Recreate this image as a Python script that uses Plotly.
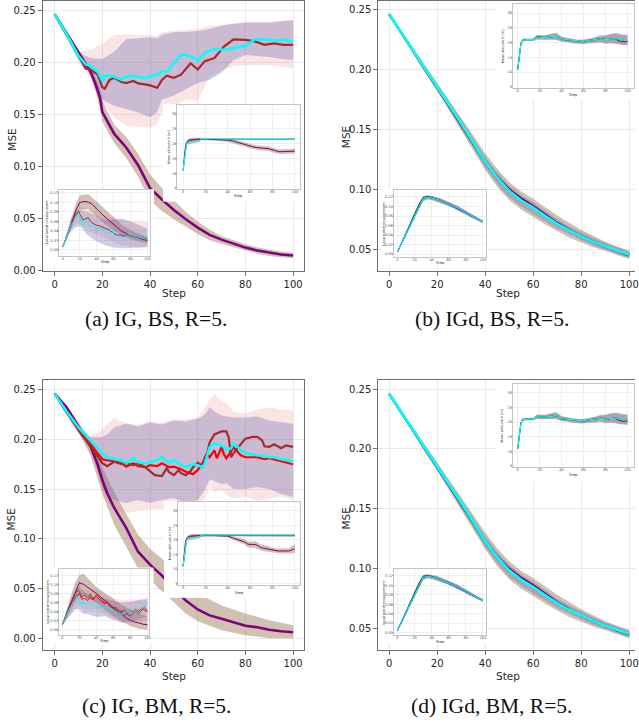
import plotly.graph_objects as go

W, H = 639, 728

# ---------------- tick labels / text ----------------
STEP_TICKS = [0, 20, 40, 60, 80, 100]
MSE_TICKS_IG = [0.00, 0.05, 0.10, 0.15, 0.20, 0.25]
MSE_TICKS_IGD = [0.05, 0.10, 0.15, 0.20, 0.25]
ALT_TICKS = [5, 10, 15, 20, 25, 30]
MIS_TICKS = [0.00, 0.02, 0.04, 0.06, 0.08, 0.10, 0.12]
CAPTIONS = ["(a) IG, BS, R=5.", "(b) IGd, BS, R=5.", "(c) IG, BM, R=5.", "(d) IGd, BM, R=5."]

COL_PURPLE = "#800080"
COL_BROWN = "#a52a2a"
COL_RED = "#ff0000"
COL_CYAN = "#00ffff"
COL_GREEN = "#008000"
COL_BLUE = "#3535ff"
F_TAN = "rgba(140,100,60,0.40)"
F_PINK = "rgba(235,120,120,0.20)"
F_BLUE = "rgba(100,100,175,0.32)"

# ---------------- (a) IG, BS : main MSE ----------------
A_X = [0, 5, 10, 13, 15, 18, 20, 21, 23, 25, 28, 30, 33, 35, 38, 40, 43, 45, 47, 50, 53, 55, 57, 60, 63, 67, 71, 75, 80, 84, 88, 92, 96, 100]
A_BROWN = [0.246, 0.226, 0.205, 0.194, 0.193, 0.188, 0.176, 0.1745, 0.183, 0.185, 0.181, 0.180, 0.182, 0.1796, 0.1786, 0.1777, 0.1754, 0.183, 0.187, 0.185,
           0.188, 0.194, 0.199, 0.193, 0.201, 0.204, 0.215, 0.222, 0.2214, 0.220, 0.2167, 0.218, 0.2167, 0.2167]
A_CYAN = [0.246, 0.227, 0.206, 0.198, 0.196, 0.191, 0.182, 0.1865, 0.187, 0.186, 0.183, 0.186, 0.187, 0.186, 0.1846, 0.1865, 0.188, 0.191, 0.191, 0.199,
          0.207, 0.207, 0.2056, 0.202, 0.209, 0.2126, 0.212, 0.2135, 0.2157, 0.222, 0.222, 0.2208, 0.2214, 0.220]
A_PURPLE_X = [0, 5, 10, 15, 17, 19, 20, 22, 25, 30, 35, 40, 45, 50, 55, 60, 65, 70, 75, 80, 85, 90, 95, 100]
A_PURPLE = [0.246, 0.228, 0.210, 0.191, 0.180, 0.166, 0.152, 0.144, 0.131, 0.118, 0.101, 0.079, 0.068, 0.058, 0.049, 0.041, 0.034, 0.0295, 0.0255, 0.0218, 0.019, 0.0168, 0.0152, 0.0143]
A_TAN_UP = [0.247, 0.230, 0.212, 0.195, 0.186, 0.176, 0.163, 0.153, 0.140, 0.128, 0.112, 0.092, 0.079, 0.067, 0.056, 0.047, 0.039, 0.033, 0.029, 0.025, 0.022, 0.020, 0.018, 0.0168]
A_TAN_LO = [0.245, 0.226, 0.207, 0.187, 0.173, 0.156, 0.143, 0.135, 0.122, 0.108, 0.090, 0.067, 0.057, 0.049, 0.042, 0.035, 0.029, 0.0255, 0.0222, 0.0188, 0.016, 0.0138, 0.0125, 0.0118]
A_BAND_X = [0, 5, 10, 15, 20, 25, 30, 35, 40, 43, 45, 50, 55, 60, 65, 70, 75, 80, 85, 90, 95, 100]
A_BLUE_UP = [0.247, 0.229, 0.209, 0.204, 0.203, 0.210, 0.222, 0.223, 0.224, 0.223, 0.226, 0.229, 0.229, 0.230, 0.232, 0.235, 0.237, 0.238, 0.238, 0.238, 0.239, 0.2405]
A_BLUE_LO = [0.245, 0.225, 0.203, 0.190, 0.164, 0.158, 0.155, 0.1517, 0.147, 0.152, 0.164, 0.168, 0.174, 0.180, 0.183, 0.190, 0.202, 0.207, 0.206, 0.205, 0.203, 0.202]
A_PINK_UP = [0.247, 0.229, 0.210, 0.212, 0.218, 0.226, 0.227, 0.226, 0.226, 0.225, 0.229, 0.230, 0.231, 0.232, 0.235, 0.236, 0.237, 0.239, 0.239, 0.239, 0.240, 0.240]
A_PINK_LO = [0.245, 0.223, 0.200, 0.185, 0.160, 0.147, 0.139, 0.138, 0.137, 0.140, 0.1516, 0.158, 0.164, 0.163, 0.186, 0.192, 0.196, 0.197, 0.197, 0.197, 0.196, 0.1945]

# (a) inset: mean altitude
AU_X = [0, 1, 2, 3, 4, 5, 8, 10, 15, 16, 20, 25, 30, 35, 40, 45, 50, 55, 58, 62, 66, 70, 73, 77, 82, 86, 91, 95, 100]
AU_PURPLE = [11.0, 15.0, 18.8, 20.2, 20.9, 21.1, 21.3, 21.4, 21.5, 21.6, 21.6, 21.5, 21.4, 21.4, 21.2, 20.9, 20.3, 19.8, 19.4, 19.0, 18.7, 18.5, 18.5, 18.3, 17.7, 17.3, 17.35, 17.4, 17.5]
AU_TAN_UP = [11.2, 15.5, 19.4, 20.8, 21.5, 21.7, 21.9, 22.0, 22.0, 22.0, 22.0, 22.0, 21.9, 22.0, 21.8, 21.6, 21.0, 20.5, 20.1, 19.7, 19.4, 19.3, 19.3, 19.1, 18.5, 18.1, 18.15, 18.2, 18.3]
AU_TAN_LO = [10.8, 14.5, 18.2, 19.6, 20.3, 20.5, 20.7, 20.8, 21.0, 21.2, 21.2, 21.0, 20.9, 20.8, 20.6, 20.2, 19.6, 19.1, 18.7, 18.3, 18.0, 17.7, 17.7, 17.5, 16.9, 16.5, 16.55, 16.6, 16.7]
AU2_X = [0, 1, 2, 3, 4, 5, 8, 10, 15, 16, 20, 40, 60, 80, 100]
AU_CYAN = [11.0, 14.0, 17.5, 19.5, 20.3, 20.6, 20.8, 20.9, 21.1, 21.7, 21.7, 21.7, 21.7, 21.7, 21.7]
AU_BROWN = [11.0, 14.8, 18.6, 20.0, 20.8, 21.0, 21.2, 21.3, 21.5, 21.6, 21.7, 21.6, 21.6, 21.6, 21.6]
AU_BAND_UP = [11.2, 15.5, 19.4, 20.8, 21.5, 21.7, 21.8, 21.9, 21.9, 21.9, 21.9, 21.85, 21.85, 21.85, 21.85]
AU_BAND_LO = [10.8, 13.5, 17.0, 19.0, 19.8, 20.0, 20.2, 20.3, 20.6, 21.4, 21.5, 21.4, 21.4, 21.4, 21.4]

# (a) inset: local belief misalignment
AL_PURPLE_X = [0, 5, 10, 15, 20, 25, 30, 35, 40, 50, 60, 70, 80, 90, 100]
AL_PURPLE = [0.007, 0.030, 0.053, 0.082, 0.100, 0.102, 0.101, 0.096, 0.086, 0.069, 0.053, 0.039, 0.030, 0.0245, 0.020]
AL_X = [0, 5, 10, 12, 15, 17, 19, 20, 22, 24, 26, 28, 30, 32, 35, 38, 40, 43, 46, 49, 52, 55, 58, 61, 64, 67, 70, 73, 76, 79, 82, 85, 88, 91, 94, 97, 100]
AL_BROWN = [0.007, 0.032, 0.056, 0.066, 0.074, 0.078, 0.081, 0.075, 0.068, 0.063, 0.065, 0.066, 0.068, 0.062, 0.056, 0.054, 0.052, 0.051, 0.049, 0.047,
            0.045, 0.042, 0.038, 0.035, 0.031, 0.032, 0.030, 0.029, 0.030, 0.031, 0.030, 0.029, 0.028, 0.027, 0.026, 0.025, 0.023]
AL_CYAN = [0.007, 0.031, 0.054, 0.059, 0.064, 0.068, 0.077, 0.068, 0.058, 0.052, 0.057, 0.061, 0.053, 0.049, 0.052, 0.047, 0.044, 0.046, 0.047, 0.040,
           0.035, 0.039, 0.042, 0.031, 0.030, 0.028, 0.027, 0.026, 0.030, 0.033, 0.030, 0.028, 0.027, 0.026, 0.025, 0.024, 0.0224]
AL_BAND_X = [0, 5, 10, 15, 20, 30, 40, 50, 60, 70, 80, 90, 100]
AL_TAN_UP = [0.008, 0.036, 0.063, 0.095, 0.115, 0.117, 0.102, 0.086, 0.069, 0.053, 0.042, 0.034, 0.028]
AL_TAN_LO = [0.006, 0.025, 0.045, 0.068, 0.084, 0.086, 0.071, 0.054, 0.041, 0.031, 0.023, 0.018, 0.014]
AL_BLUE_UP = [0.008, 0.038, 0.066, 0.082, 0.084, 0.080, 0.072, 0.063, 0.064, 0.066, 0.060, 0.052, 0.045]
AL_BLUE_LO = [0.006, 0.024, 0.040, 0.048, 0.050, 0.030, 0.018, 0.010, 0.005, 0.0035, 0.004, 0.005, 0.007]
AL_PINK_UP = [0.008, 0.040, 0.070, 0.086, 0.091, 0.085, 0.077, 0.072, 0.068, 0.063, 0.061, 0.060, 0.059]
AL_PINK_LO = [0.006, 0.026, 0.045, 0.055, 0.055, 0.040, 0.032, 0.0245, 0.016, 0.010, 0.007, 0.005, 0.0035]

# ---------------- (b)/(d) IGd : main MSE ----------------
B_X = [0, 5, 10, 15, 20, 25, 30, 35, 40, 45, 50, 55, 60, 65, 70, 75, 80, 85, 90, 95, 100]
B_CYAN = [0.246, 0.231, 0.216, 0.2005, 0.186, 0.171, 0.155, 0.139, 0.1228, 0.1095, 0.0985, 0.0905, 0.0845, 0.0775, 0.071, 0.0655, 0.0605, 0.0562, 0.0522, 0.0485, 0.0452]
B_PURPLE = [0.246, 0.2308, 0.2155, 0.1998, 0.1852, 0.170, 0.1542, 0.1385, 0.1228, 0.110, 0.0998, 0.0922, 0.086, 0.0788, 0.0718, 0.066, 0.0607, 0.0562, 0.052, 0.0482, 0.0448]
B_GREEN = [0.246, 0.2305, 0.2152, 0.1993, 0.1848, 0.1698, 0.1538, 0.1378, 0.1222, 0.1092, 0.0985, 0.0905, 0.0845, 0.0775, 0.071, 0.0655, 0.0605, 0.0562, 0.0522, 0.0485, 0.0452]
B_TAN_UP = [0.247, 0.2325, 0.218, 0.203, 0.1895, 0.175, 0.160, 0.145, 0.130, 0.117, 0.106, 0.098, 0.092, 0.085, 0.078, 0.072, 0.066, 0.061, 0.056, 0.0522, 0.0485]
B_TAN_LO = [0.245, 0.2295, 0.2135, 0.197, 0.182, 0.166, 0.1495, 0.1325, 0.116, 0.102, 0.091, 0.083, 0.077, 0.0705, 0.065, 0.0595, 0.0555, 0.0515, 0.0485, 0.0448, 0.0418]
B_BLUE_UP = [0.2468, 0.232, 0.2175, 0.2025, 0.1885, 0.1735, 0.158, 0.1425, 0.127, 0.114, 0.103, 0.095, 0.089, 0.082, 0.075, 0.069, 0.064, 0.0595, 0.0552, 0.0515, 0.048]
B_BLUE_LO = [0.2452, 0.2298, 0.2143, 0.1983, 0.1833, 0.1678, 0.151, 0.1345, 0.118, 0.104, 0.093, 0.0855, 0.0795, 0.073, 0.067, 0.062, 0.0575, 0.053, 0.0495, 0.0458, 0.0425]

# (b)/(d) inset: mean altitude
BU_X = [0, 1, 2, 3, 4, 5, 8, 12, 14, 16, 18, 20, 25, 30, 33, 35, 37, 40, 45, 50, 55, 58, 60, 63, 66, 70, 73, 76, 80, 83, 86, 88, 90, 93, 96, 100]
BU_CYAN = [10.8, 14.0, 18.0, 19.8, 20.6, 20.8, 21.0, 21.0, 21.0, 21.8, 21.9, 21.8, 21.7, 21.9, 22.1, 22.2, 22.0, 21.2, 21.0, 20.8,
           20.5, 20.3, 20.4, 20.7, 20.8, 21.0, 21.0, 21.3, 21.0, 21.1, 21.4, 21.5, 21.4, 21.0, 20.9, 20.6]
BU_PURPLE = [10.8, 14.0, 18.0, 19.8, 20.6, 20.8, 21.0, 21.0, 21.0, 21.8, 21.9, 21.8, 21.7, 21.9, 22.0, 22.1, 21.9, 21.1, 20.9, 20.7,
             20.4, 20.2, 20.3, 20.6, 20.8, 21.0, 21.1, 21.4, 21.1, 21.0, 21.3, 21.4, 21.0, 20.5, 20.3, 20.3]
BU_GREEN = [10.8, 14.0, 18.0, 19.8, 20.6, 20.8, 21.0, 21.0, 21.0, 21.8, 22.0, 21.9, 21.8, 22.0, 22.1, 22.2, 22.0, 21.2, 21.0, 20.8,
            20.5, 20.3, 20.4, 20.7, 20.8, 21.0, 21.0, 21.3, 21.0, 21.1, 21.4, 21.5, 21.4, 21.0, 20.9, 20.6]
BU_BAND_X = [0, 2, 4, 6, 10, 15, 17, 20, 25, 30, 35, 40, 45, 50, 55, 60, 65, 70, 75, 80, 85, 90, 95, 100]
BU_TAN_UP = [11.0, 18.5, 21.2, 21.4, 21.4, 21.5, 22.5, 22.6, 22.5, 23.0, 23.2, 22.0, 21.6, 21.3, 21.0, 21.0, 21.4, 21.8, 22.2, 22.5, 22.8, 23.0, 22.6, 22.5]
BU_TAN_LO = [10.6, 17.5, 20.0, 20.5, 20.5, 20.6, 21.0, 21.0, 20.9, 21.0, 21.0, 20.3, 20.2, 19.8, 19.6, 19.5, 19.8, 19.8, 20.0, 19.6, 19.8, 19.6, 19.2, 19.0]
BU_BLUE_UP = [11.0, 18.3, 21.1, 21.3, 21.3, 21.4, 22.3, 22.5, 22.3, 22.8, 23.4, 22.0, 21.5, 21.2, 20.9, 21.0, 21.3, 21.7, 22.6, 22.4, 23.1, 23.3, 22.8, 22.6]
BU_BLUE_LO = [10.6, 17.6, 20.1, 20.6, 20.6, 20.7, 21.1, 21.1, 21.0, 21.0, 21.0, 20.4, 20.2, 19.9, 19.6, 19.6, 19.9, 20.0, 20.3, 19.9, 19.9, 19.8, 19.4, 19.2]

# (b)/(d) inset: local belief misalignment
BL_X = [0, 5, 10, 15, 20, 25, 30, 35, 40, 45, 50, 55, 60, 65, 70, 75, 80, 85, 90, 95, 100]
BL_CYAN = [0.005, 0.024, 0.043, 0.062, 0.081, 0.100, 0.1165, 0.1195, 0.118, 0.1155, 0.1125, 0.109, 0.1055, 0.1015, 0.097, 0.092, 0.087, 0.082, 0.077, 0.072, 0.068]
BL_GREEN = [0.005, 0.025, 0.045, 0.065, 0.085, 0.104, 0.1195, 0.121, 0.119, 0.116, 0.1125, 0.109, 0.1055, 0.1015, 0.097, 0.092, 0.087, 0.082, 0.077, 0.072, 0.068]
BL_BLUE = [0.005, 0.024, 0.043, 0.062, 0.081, 0.100, 0.1165, 0.1195, 0.118, 0.1155, 0.1125, 0.1075, 0.1035, 0.0995, 0.095, 0.0905, 0.086, 0.082, 0.077, 0.072, 0.068]
BL_PURPLE = [0.005, 0.024, 0.044, 0.063, 0.082, 0.101, 0.117, 0.120, 0.1185, 0.116, 0.113, 0.1095, 0.106, 0.102, 0.0975, 0.0925, 0.0875, 0.0825, 0.0775, 0.0725, 0.0685]
BL_TAN_UP = [0.006, 0.027, 0.047, 0.067, 0.087, 0.106, 0.121, 0.1235, 0.1225, 0.120, 0.117, 0.1135, 0.110, 0.106, 0.1015, 0.0965, 0.091, 0.0855, 0.080, 0.0745, 0.070]
BL_TAN_LO = [0.004, 0.021, 0.039, 0.057, 0.075, 0.094, 0.111, 0.115, 0.1135, 0.111, 0.108, 0.1045, 0.101, 0.097, 0.0925, 0.088, 0.083, 0.078, 0.074, 0.069, 0.065]

# ---------------- (c) IG, BM : main MSE ----------------
C_CYAN_X = [0, 5, 10, 15, 18, 20, 22, 25, 28, 30, 33, 35, 38, 40, 43, 45, 48, 50, 53, 55, 58, 60, 62, 63, 65, 67, 68, 70, 72, 74, 75, 77, 78, 80, 82, 85, 88, 90, 92, 95, 98, 100]
C_CYAN = [0.246, 0.228, 0.212, 0.199, 0.1907, 0.1857, 0.182, 0.180, 0.179, 0.176, 0.181, 0.177, 0.176, 0.177, 0.179, 0.182, 0.176, 0.179, 0.174, 0.172,
          0.175, 0.174, 0.172, 0.176, 0.192, 0.196, 0.195, 0.194, 0.190, 0.191, 0.196, 0.192, 0.189, 0.186, 0.185, 0.184, 0.183, 0.182, 0.182, 0.180, 0.179, 0.177]
C_RED_X = [0, 5, 10, 15, 18, 20, 22, 25, 28, 30, 33, 35, 38, 40, 43, 45, 48, 50, 53, 55, 58, 60, 62, 64, 65, 67, 68, 70, 71, 72, 74, 75, 78, 80, 85, 88, 90, 95, 100]
C_RED = [0.246, 0.227, 0.210, 0.196, 0.186, 0.180, 0.179, 0.178, 0.176, 0.1725, 0.176, 0.173, 0.172, 0.174, 0.173, 0.176, 0.172, 0.1725, 0.170, 0.1675,
         0.165, 0.169, 0.176, 0.186, 0.182, 0.189, 0.181, 0.192, 0.185, 0.181, 0.188, 0.192, 0.184, 0.182, 0.182, 0.180, 0.181, 0.178, 0.175]
C_BROWN_X = [0, 5, 10, 15, 18, 20, 22, 25, 28, 30, 33, 35, 38, 40, 42, 45, 47, 48, 50, 52, 53, 55, 57, 58, 60, 62, 63, 64, 65, 67,
             70, 72, 73, 74, 75, 77, 78, 80, 83, 85, 87, 88, 90, 92, 95, 97, 100]
C_BROWN = [0.246, 0.227, 0.209, 0.193, 0.182, 0.176, 0.173, 0.1775, 0.175, 0.176, 0.174, 0.176, 0.172, 0.1675, 0.164, 0.163, 0.171, 0.167, 0.164, 0.169,
           0.166, 0.164, 0.168, 0.172, 0.1765, 0.173, 0.182, 0.186, 0.197, 0.205, 0.208, 0.208, 0.202, 0.182, 0.186, 0.192, 0.195, 0.2007, 0.2024, 0.2024,
           0.199, 0.193, 0.1924, 0.195, 0.191, 0.194, 0.1924]
C_PURPLE_X = [0, 5, 10, 15, 18, 20, 22, 25, 30, 35, 40, 45, 50, 55, 60, 65, 70, 75, 80, 85, 90, 95, 100]
C_PURPLE = [0.246, 0.232, 0.213, 0.193, 0.175, 0.159, 0.146, 0.131, 0.111, 0.087, 0.074, 0.063, 0.050, 0.038, 0.029, 0.023, 0.0195, 0.016, 0.0125, 0.011, 0.0085, 0.007, 0.006]
C_TAN_X = [0, 5, 10, 15, 20, 25, 30, 35, 40, 45, 50, 55, 60, 70, 80, 90, 100]
C_TAN_UP = [0.247, 0.234, 0.217, 0.199, 0.172, 0.147, 0.125, 0.104, 0.090, 0.080, 0.067, 0.055, 0.045, 0.033, 0.025, 0.018, 0.013]
C_TAN_LO = [0.245, 0.229, 0.207, 0.184, 0.145, 0.114, 0.092, 0.070, 0.059, 0.048, 0.036, 0.025, 0.017, 0.008, 0.003, 0.0, 0.0]
C_BAND_X = [0, 5, 10, 15, 20, 22, 25, 30, 35, 40, 45, 50, 55, 60, 63, 65, 67, 70, 72, 75, 80, 85, 90, 95, 100]
C_BLUE_UP = [0.247, 0.230, 0.214, 0.202, 0.2024, 0.205, 0.212, 0.216, 0.213, 0.217, 0.215, 0.219, 0.218, 0.2207, 0.225, 0.232, 0.228, 0.224, 0.223, 0.222, 0.222, 0.223, 0.219, 0.217, 0.2157]
C_BLUE_LO = [0.245, 0.226, 0.209, 0.193, 0.152, 0.1425, 0.139, 0.136, 0.139, 0.136, 0.139, 0.141, 0.136, 0.139, 0.149, 0.160, 0.158, 0.155, 0.156, 0.150, 0.150, 0.152, 0.150, 0.145, 0.142]
C_PINK_UP = [0.247, 0.230, 0.214, 0.203, 0.210, 0.215, 0.222, 0.216, 0.215, 0.218, 0.217, 0.220, 0.220, 0.222, 0.232, 0.240, 0.246, 0.238, 0.236, 0.228, 0.226, 0.230, 0.232, 0.230, 0.229]
C_PINK_LO = [0.245, 0.224, 0.206, 0.188, 0.150, 0.138, 0.129, 0.126, 0.128, 0.129, 0.130, 0.1325, 0.130, 0.136, 0.140, 0.152, 0.147, 0.149, 0.145, 0.140, 0.1425, 0.138, 0.140, 0.1425, 0.139]

# (c) inset: mean altitude
CU_PURPLE_X = [0, 1, 2, 3, 4, 5, 8, 10, 15, 20, 30, 40, 44, 50, 55, 58, 61, 65, 70, 75, 80, 85, 90, 95, 97, 100]
CU_PURPLE = [11.0, 15.0, 18.8, 20.2, 20.9, 21.1, 21.3, 21.4, 21.5, 21.6, 21.5, 21.3, 20.7, 20.0, 19.3, 18.5, 18.4, 18.4, 17.3, 17.0, 16.5, 16.2, 16.2, 16.2, 16.5, 17.0]
CU_TAN_UP = [11.2, 15.5, 19.4, 20.8, 21.5, 21.7, 21.9, 21.9, 21.9, 22.0, 21.9, 21.8, 21.3, 20.8, 20.2, 19.5, 19.4, 19.6, 18.3, 18.0, 17.3, 17.0, 17.0, 17.1, 17.7, 18.5]
CU_TAN_LO = [10.8, 14.5, 18.2, 19.6, 20.3, 20.5, 20.7, 20.9, 21.1, 21.2, 21.1, 20.8, 20.1, 19.2, 18.4, 17.5, 17.4, 17.2, 16.3, 16.0, 15.7, 15.4, 15.4, 15.3, 15.3, 15.5]
CU_X = [0, 1, 2, 3, 4, 5, 8, 10, 15, 16, 20, 40, 60, 80, 100]
CU_CYAN = [11.0, 14.0, 17.5, 19.5, 20.3, 20.6, 20.8, 20.9, 21.1, 21.6, 21.7, 21.7, 21.7, 21.7, 21.7]
CU_BROWN = [11.0, 14.8, 18.6, 20.0, 20.8, 21.0, 21.2, 21.3, 21.4, 21.4, 21.5, 21.5, 21.4, 21.3, 21.4]
CU_RED = [11.0, 14.6, 18.4, 19.9, 20.6, 20.9, 21.1, 21.2, 21.3, 21.5, 21.6, 21.6, 21.5, 21.5, 21.5]
CU_BAND_UP = [11.2, 15.5, 19.4, 20.8, 21.5, 21.7, 21.8, 21.9, 21.9, 21.9, 21.9, 21.9, 21.9, 21.9, 21.9]
CU_BAND_LO = [10.8, 13.5, 17.0, 19.0, 19.8, 20.0, 20.2, 20.3, 20.6, 21.2, 21.3, 21.3, 21.2, 21.1, 21.2]

# (c) inset: local belief misalignment
CL_PURPLE_X = [0, 5, 10, 15, 20, 25, 30, 35, 40, 45, 50, 55, 60, 65, 70, 75, 80, 85, 90, 95, 100]
CL_PURPLE = [0.011, 0.035, 0.060, 0.085, 0.105, 0.101, 0.095, 0.088, 0.081, 0.073, 0.065, 0.056, 0.048, 0.040, 0.033, 0.026, 0.021, 0.017, 0.015, 0.012, 0.011]
CL_CYAN_X = [0, 5, 10, 15, 18, 20, 22, 25, 28, 30, 33, 35, 38, 41, 45, 48, 51, 55, 58, 61, 65, 68, 70, 73, 76, 80, 83, 86, 90, 93, 96, 100]
CL_CYAN = [0.011, 0.032, 0.052, 0.068, 0.075, 0.066, 0.056, 0.060, 0.057, 0.060, 0.055, 0.058, 0.052, 0.049, 0.051, 0.048, 0.052, 0.047, 0.044, 0.041,
           0.038, 0.036, 0.034, 0.037, 0.040, 0.041, 0.038, 0.044, 0.049, 0.046, 0.052, 0.056]
CL_RED_X = [0, 5, 10, 15, 20, 23, 26, 30, 33, 36, 40, 43, 46, 50, 53, 56, 60, 63, 66, 70, 73, 76, 80, 83, 86, 90, 93, 96, 100]
CL_RED = [0.011, 0.033, 0.055, 0.072, 0.080, 0.068, 0.070, 0.065, 0.072, 0.066, 0.075, 0.068, 0.062, 0.058, 0.061, 0.052, 0.048, 0.050, 0.044, 0.040,
          0.044, 0.036, 0.043, 0.039, 0.046, 0.041, 0.048, 0.044, 0.040]
CL_BROWN_X = [0, 5, 10, 15, 18, 20, 23, 26, 30, 33, 36, 40, 43, 46, 50, 53, 56, 60, 63, 66, 70, 73, 76, 80, 83, 86, 90, 93, 96, 100]
CL_BROWN = [0.011, 0.036, 0.060, 0.080, 0.088, 0.085, 0.072, 0.078, 0.070, 0.080, 0.068, 0.078, 0.072, 0.066, 0.060, 0.062, 0.052, 0.047, 0.042, 0.036,
            0.040, 0.032, 0.036, 0.030, 0.036, 0.042, 0.035, 0.044, 0.050, 0.042]
CL_BAND_X = [0, 5, 10, 15, 20, 25, 30, 40, 50, 60, 70, 80, 90, 100]
CL_TAN_UP = [0.012, 0.045, 0.075, 0.105, 0.122, 0.125, 0.115, 0.095, 0.082, 0.068, 0.055, 0.045, 0.035, 0.030]
CL_TAN_LO = [0.010, 0.025, 0.045, 0.062, 0.078, 0.075, 0.070, 0.060, 0.045, 0.030, 0.018, 0.008, 0.002, 0.0]
CL_BLUE_UP = [0.012, 0.042, 0.066, 0.085, 0.095, 0.085, 0.080, 0.070, 0.070, 0.064, 0.060, 0.062, 0.066, 0.070]
CL_BLUE_LO = [0.010, 0.022, 0.035, 0.045, 0.045, 0.035, 0.035, 0.028, 0.030, 0.022, 0.015, 0.018, 0.022, 0.030]
CL_PINK_UP = [0.012, 0.045, 0.072, 0.092, 0.105, 0.092, 0.090, 0.090, 0.080, 0.070, 0.065, 0.068, 0.068, 0.066]
CL_PINK_LO = [0.010, 0.022, 0.035, 0.048, 0.052, 0.045, 0.042, 0.045, 0.035, 0.025, 0.018, 0.016, 0.018, 0.020]

# ====================================================================
fig = go.Figure()
layout = dict(width=W, height=H, autosize=False, margin=dict(l=0, r=0, t=0, b=0, pad=0),
              paper_bgcolor="white", plot_bgcolor="white", showlegend=False,
              hovermode=False, annotations=[])
counter = [0]


def new_axes(box, xr, yr, xs, ys):
    x0, x1, top, bottom = box
    counter[0] += 1
    n = counter[0]
    s = "" if n == 1 else str(n)
    layout["xaxis" + s] = dict(domain=[max(0.0, x0 / W), min(1.0, x1 / W)], range=xr, anchor="y" + s, **xs)
    layout["yaxis" + s] = dict(domain=[max(0.0, 1 - bottom / H), min(1.0, 1 - top / H)], range=yr, anchor="x" + s, **ys)
    return "x" + s, "y" + s


def main_style(ticks, fmt, mirror):
    return dict(showline=True, linecolor="#6e6e6e", linewidth=1, mirror=mirror, ticks="outside", ticklen=4,
                tickwidth=1, tickcolor="#6e6e6e", tickvals=ticks, tickformat=fmt, ticklabeloverflow="allow",
                tickfont=dict(family="DejaVu Sans", size=10, color="#262626"),
                showgrid=True, gridcolor="#e9e9e9", gridwidth=1, zeroline=False, fixedrange=True)


def inset_style(ticks, fmt):
    return dict(showline=True, linecolor="#c4c4c4", linewidth=0.8, mirror=True, ticks="outside", ticklen=1,
                tickwidth=0.6, tickcolor="#c4c4c4", tickvals=ticks, tickformat=fmt, ticklabelstandoff=-2,
                tickfont=dict(family="DejaVu Sans", size=3.6, color="#555555"),
                showgrid=True, gridcolor="#efefef", gridwidth=0.6, zeroline=False, fixedrange=True)


BOX_STYLE = dict(showgrid=False, showticklabels=False, showline=False, zeroline=False, ticks="", fixedrange=True)


def band(ax, xs, up, lo, color):
    fig.add_trace(go.Scatter(x=list(xs) + list(xs)[::-1], y=list(up) + list(lo)[::-1], fill="toself",
                             fillcolor=color, mode="lines", line=dict(width=0), xaxis=ax[0], yaxis=ax[1],
                             hoverinfo="skip", showlegend=False))


def line(ax, xs, ys, color, width):
    fig.add_trace(go.Scatter(x=xs, y=ys, mode="lines", line=dict(color=color, width=width),
                             xaxis=ax[0], yaxis=ax[1], hoverinfo="skip", showlegend=False))


def text(s, x, y, size, angle=0, family="DejaVu Sans", color="#262626"):
    layout["annotations"].append(dict(text=s, x=x / W, y=1 - y / H, xref="paper", yref="paper", showarrow=False,
                                      textangle=angle, xanchor="center", yanchor="middle",
                                      font=dict(family=family, size=size, color=color)))


# ---------------- main panels ----------------
ax = new_axes((43, 306, 1, 272.7), [-5, 104.6], [-0.0005, 0.2588],
              main_style(STEP_TICKS, "d", True), main_style(MSE_TICKS_IG, ".2f", True))
band(ax, A_PURPLE_X, A_TAN_UP, A_TAN_LO, F_TAN)
band(ax, A_BAND_X, A_PINK_UP, A_PINK_LO, F_PINK)
band(ax, A_BAND_X, A_BLUE_UP, A_BLUE_LO, F_BLUE)
line(ax, A_PURPLE_X, A_PURPLE, COL_PURPLE, 2.6)
line(ax, A_X, A_BROWN, COL_BROWN, 2.2)
line(ax, A_X, A_CYAN, COL_CYAN, 2.6)

ax = new_axes((380.7, 639, 1, 272.7), [-4.5, 102.4], [0.0318, 0.257],
              main_style(STEP_TICKS, "d", True), main_style(MSE_TICKS_IGD, ".2f", False))
band(ax, B_X, B_TAN_UP, B_TAN_LO, F_TAN)
band(ax, B_X, B_BLUE_UP, B_BLUE_LO, F_BLUE)
line(ax, B_X, B_PURPLE, COL_PURPLE, 2.4)
line(ax, B_X, B_GREEN, COL_GREEN, 2.0)
line(ax, B_X, B_CYAN, COL_CYAN, 2.6)

ax = new_axes((43, 306, 382.7, 654), [-5, 104.6], [-0.0113, 0.2596],
              main_style(STEP_TICKS, "d", True), main_style(MSE_TICKS_IG, ".2f", True))
band(ax, C_TAN_X, C_TAN_UP, C_TAN_LO, F_TAN)
band(ax, C_BAND_X, C_PINK_UP, C_PINK_LO, F_PINK)
band(ax, C_BAND_X, C_BLUE_UP, C_BLUE_LO, F_BLUE)
line(ax, C_PURPLE_X, C_PURPLE, COL_PURPLE, 2.6)
line(ax, C_RED_X, C_RED, COL_RED, 2.2)
line(ax, C_BROWN_X, C_BROWN, COL_BROWN, 2.2)
line(ax, C_CYAN_X, C_CYAN, COL_CYAN, 2.6)

ax = new_axes((380.7, 639, 382.7, 654), [-4.5, 102.4], [0.0323, 0.2575],
              main_style(STEP_TICKS, "d", True), main_style(MSE_TICKS_IGD, ".2f", False))
band(ax, B_X, B_TAN_UP, B_TAN_LO, F_TAN)
band(ax, B_X, B_BLUE_UP, B_BLUE_LO, F_BLUE)
line(ax, B_X, B_PURPLE, COL_PURPLE, 2.4)
line(ax, B_X, B_GREEN, COL_GREEN, 2.0)
line(ax, B_X, B_CYAN, COL_CYAN, 2.6)

# ---------------- white backing boxes for the insets ----------------
BOXES = [(164, 304, 105, 203), (47, 155, 190.5, 267),
         (500, 639, 2, 100), (383, 491, 190, 267),
         (165, 304, 504.5, 602), (47, 154.5, 571.5, 647.5),
         (500, 639, 384, 484), (383, 491, 572, 648)]
for b in BOXES:
    bx = new_axes(b, [0, 1], [0, 1], BOX_STYLE, BOX_STYLE)
    fig.add_trace(go.Scatter(x=[None], y=[None], mode="markers", xaxis=bx[0], yaxis=bx[1],
                             hoverinfo="skip", showlegend=False))

# ---------------- insets ----------------
ALT_Y = "Mean altitude h [m]"
MIS_Y = "Local belief misalignment"

# (a) altitude
ax = new_axes((178.3, 302.3, 106, 190), [-5.3, 105], [4.8, 33.0], inset_style(STEP_TICKS, "d"), inset_style(ALT_TICKS, "d"))
band(ax, AU_X, AU_TAN_UP, AU_TAN_LO, F_TAN)
band(ax, AU2_X, AU_BAND_UP, AU_BAND_LO, F_PINK)
band(ax, AU2_X, AU_BAND_UP, AU_BAND_LO, F_BLUE)
line(ax, AU_X, AU_PURPLE, COL_PURPLE, 1.0)
line(ax, AU2_X, AU_BROWN, COL_BROWN, 1.0)
line(ax, AU2_X, AU_CYAN, COL_CYAN, 1.2)
text(ALT_Y, 169.8, 148, 3.4, -90)
text("Step", 240.5, 197.5, 3.6)

# (a) misalignment
ax = new_axes((59.3, 151, 191.7, 257.3), [-4.7, 103.2], [-0.0117, 0.1254], inset_style(STEP_TICKS, "d"), inset_style(MIS_TICKS, ".2f"))
band(ax, AL_BAND_X, AL_TAN_UP, AL_TAN_LO, F_TAN)
band(ax, AL_BAND_X, AL_PINK_UP, AL_PINK_LO, F_PINK)
band(ax, AL_BAND_X, AL_BLUE_UP, AL_BLUE_LO, F_BLUE)
line(ax, AL_PURPLE_X, AL_PURPLE, COL_PURPLE, 1.0)
line(ax, AL_X, AL_BROWN, COL_BROWN, 1.0)
line(ax, AL_X, AL_CYAN, COL_CYAN, 1.0)
text(MIS_Y, 47.8, 224, 3.4, -90)
text("Step", 105.7, 264.3, 3.6)

# (b) altitude
ax = new_axes((516, 637.5, 4.3, 88.3), [-4.5, 105.5], [4.7, 33.0], inset_style(STEP_TICKS, "d"), inset_style(ALT_TICKS, "d"))
band(ax, BU_BAND_X, BU_TAN_UP, BU_TAN_LO, F_TAN)
band(ax, BU_BAND_X, BU_BLUE_UP, BU_BLUE_LO, F_BLUE)
line(ax, BU_X, BU_PURPLE, COL_PURPLE, 1.0)
line(ax, BU_X, BU_GREEN, COL_GREEN, 1.0)
line(ax, BU_X, BU_CYAN, COL_CYAN, 1.1)
text(ALT_Y, 505.6, 46, 3.4, -90)
text("Step", 577, 96, 3.6)

# (b) misalignment
ax = new_axes((396, 489.3, 191.7, 258.3), [-4.65, 103.8], [-0.0048, 0.1337], inset_style(STEP_TICKS, "d"), inset_style(MIS_TICKS, ".2f"))
band(ax, BL_X, BL_TAN_UP, BL_TAN_LO, F_TAN)
band(ax, BL_X, BL_TAN_UP, BL_TAN_LO, F_BLUE)
line(ax, BL_X, BL_PURPLE, COL_PURPLE, 1.0)
line(ax, BL_X, BL_GREEN, COL_GREEN, 1.0)
line(ax, BL_X, BL_BLUE, COL_BLUE, 1.0)
line(ax, BL_X, BL_CYAN, COL_CYAN, 1.0)
text(MIS_Y, 386.6, 225, 3.4, -90)
text("Step", 443, 264.8, 3.6)

# (c) altitude
ax = new_axes((179.3, 302.3, 505.7, 589.3), [-4.4, 105], [4.45, 32.9], inset_style(STEP_TICKS, "d"), inset_style(ALT_TICKS, "d"))
band(ax, CU_PURPLE_X, CU_TAN_UP, CU_TAN_LO, F_TAN)
band(ax, CU_X, CU_BAND_UP, CU_BAND_LO, F_PINK)
band(ax, CU_X, CU_BAND_UP, CU_BAND_LO, F_BLUE)
line(ax, CU_PURPLE_X, CU_PURPLE, COL_PURPLE, 1.0)
line(ax, CU_X, CU_RED, COL_RED, 1.0)
line(ax, CU_X, CU_BROWN, COL_BROWN, 1.0)
line(ax, CU_X, CU_CYAN, COL_CYAN, 1.2)
text(ALT_Y, 170.6, 547.5, 3.4, -90)
text("Step", 241, 597, 3.6)

# (c) misalignment
ax = new_axes((59.3, 150, 572.7, 639.3), [-4, 102], [-0.0118, 0.136], inset_style(STEP_TICKS, "d"), inset_style(MIS_TICKS, ".2f"))
band(ax, CL_BAND_X, CL_TAN_UP, CL_TAN_LO, F_TAN)
band(ax, CL_BAND_X, CL_PINK_UP, CL_PINK_LO, F_PINK)
band(ax, CL_BAND_X, CL_BLUE_UP, CL_BLUE_LO, F_BLUE)
line(ax, CL_PURPLE_X, CL_PURPLE, COL_PURPLE, 1.0)
line(ax, CL_RED_X, CL_RED, COL_RED, 0.9)
line(ax, CL_BROWN_X, CL_BROWN, COL_BROWN, 0.9)
line(ax, CL_CYAN_X, CL_CYAN, COL_CYAN, 1.0)
text(MIS_Y, 48.0, 606, 3.4, -90)
text("Step", 105, 645, 3.6)

# (d) altitude
ax = new_axes((516, 637.5, 386.7, 470), [-4.5, 105.5], [4.7, 33.0], inset_style(STEP_TICKS, "d"), inset_style(ALT_TICKS, "d"))
band(ax, BU_BAND_X, BU_TAN_UP, BU_TAN_LO, F_TAN)
band(ax, BU_BAND_X, BU_BLUE_UP, BU_BLUE_LO, F_BLUE)
line(ax, BU_X, BU_PURPLE, COL_PURPLE, 1.0)
line(ax, BU_X, BU_GREEN, COL_GREEN, 1.0)
line(ax, BU_X, BU_CYAN, COL_CYAN, 1.1)
text(ALT_Y, 505.6, 428, 3.4, -90)
text("Step", 577, 478, 3.6)

# (d) misalignment
ax = new_axes((396, 489.3, 573.3, 639.3), [-4.65, 103.8], [-0.0048, 0.1337], inset_style(STEP_TICKS, "d"), inset_style(MIS_TICKS, ".2f"))
band(ax, BL_X, BL_TAN_UP, BL_TAN_LO, F_TAN)
band(ax, BL_X, BL_TAN_UP, BL_TAN_LO, F_BLUE)
line(ax, BL_X, BL_PURPLE, COL_PURPLE, 1.0)
line(ax, BL_X, BL_GREEN, COL_GREEN, 1.0)
line(ax, BL_X, BL_BLUE, COL_BLUE, 1.0)
line(ax, BL_X, BL_CYAN, COL_CYAN, 1.0)
text(MIS_Y, 386.6, 606.5, 3.4, -90)
text("Step", 443, 646, 3.6)

# ---------------- main axis titles and captions ----------------
for (mx, my, sx, sy) in [(11.2, 140.5, 175, 295), (348.3, 138, 511, 295),
                         (11.2, 523, 175, 681), (348.3, 522, 511, 681)]:
    text("MSE", mx, my, 10.5, -90)
    text("Step", sx, sy, 10.5)

for cap, (cx, cy) in zip(CAPTIONS, [(157, 321), (495, 321), (157, 711), (495, 711)]):
    text(cap, cx, cy, 21.5, 0, "Liberation Serif", "#111111")

fig.update_layout(**layout)
fig.write_html("out.html", config={"displayModeBar": False},
               post_script="document.body.style.margin='0px';document.body.style.padding='0px';")
